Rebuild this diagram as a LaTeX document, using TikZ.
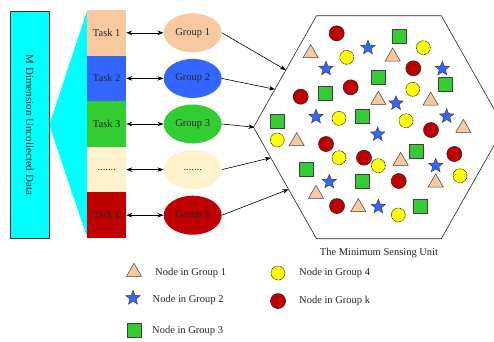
\documentclass[tikz,border=0pt]{standalone}
\usepackage{fontspec}
\setmainfont{Liberation Serif}
\usetikzlibrary{shapes.geometric,calc,arrows.meta}

\definecolor{peach}{RGB}{248,200,160}
\definecolor{tblue}{RGB}{51,102,255}
\definecolor{tgreen}{RGB}{51,204,51}
\definecolor{cream}{RGB}{255,242,204}
\definecolor{tred}{RGB}{192,0,0}
\definecolor{tyellow}{RGB}{255,255,0}
\definecolor{tcyan}{RGB}{0,255,255}

\tikzset{
  lbl/.style={font=\fontsize{10.5}{12}\selectfont, text=black!85},
  taskcell/.style={lbl, rectangle, inner sep=0pt, minimum width=38.7pt, minimum height=45.6pt},
  groupell/.style={lbl, ellipse, inner sep=0pt, minimum width=58pt, minimum height=39pt},
  link/.style={-{Stealth[length=6pt,width=4.5pt]}, line width=0.6pt},
  twoway/.style={{Stealth[length=6pt,width=4.5pt]}-{Stealth[length=6pt,width=4.5pt]}, line width=0.6pt},
  tri/.style={regular polygon, regular polygon sides=3, inner sep=0pt, minimum size=17.5pt,
    fill=peach, draw=black!75, line width=0.5pt},
  starn/.style={star, star points=5, star point ratio=2.3, inner sep=0pt, minimum size=15pt,
    fill=tblue, draw=black!75, line width=0.5pt},
  sq/.style={rectangle, inner sep=0pt, minimum size=14pt, fill=tgreen, draw=black!75, line width=0.6pt},
  rc/.style={circle, inner sep=0pt, minimum size=15pt, fill=tred, draw=black!85, line width=0.6pt},
  yc/.style={circle, inner sep=0pt, minimum size=14pt, fill=tyellow, draw=black,
    line width=0.6pt, dash pattern=on 0.7pt off 0.7pt},
  legtext/.style={lbl, anchor=west, inner sep=0pt}
}

\begin{document}
\begin{tikzpicture}[x=1pt, y=-1pt]
\useasboundingbox (0,0) rectangle (494,341);

% data source and its fan-out to the task column
\fill[tcyan] (49.3,125) -- (87.3,10) -- (87.3,238) -- cycle;
\node[rectangle, fill=tcyan, draw=black!80, line width=0.8pt, inner sep=0pt,
      minimum width=38.6pt, minimum height=226.3pt] (src) at (30,124.85) {};
\node[lbl, font=\fontsize{11}{12}\selectfont, rotate=-90] at (src.center) {M Dimension Uncollected Data};

% task column
\node[taskcell, fill=peach] (t1) at (106.7,32.8) {Task 1};
\node[taskcell, fill=tblue] (t2) at (106.7,78.4) {Task 2};
\node[taskcell, fill=tgreen] (t3) at (106.7,124) {Task 3};
\node[taskcell, fill=cream] (t4) at (106.7,169.6) {.......};
\node[taskcell, fill=tred] (t5) at (106.7,215.2) {Task k};

% groups
\node[groupell, fill=peach] (g1) at (192.7,32.8) {Group 1};
\node[groupell, fill=tblue] (g2) at (192.7,78.4) {Group 2};
\node[groupell, fill=tgreen] (g3) at (192.7,124) {Group 3};
\node[groupell, fill=cream] (g4) at (192.7,169.6) {.......};
\node[groupell, fill=tred] (g5) at (192.7,215.2) {Group k};

\foreach \i in {1,...,5} {
  \draw[twoway] (t\i.east) -- (g\i.west);
}

% sensing unit
\coordinate (hL) at (253.5,127.2);
\coordinate (hTL) at (316.5,15.7);
\coordinate (hTR) at (441.3,15.7);
\coordinate (hR) at (504.3,127.2);
\coordinate (hBR) at (441.3,238.7);
\coordinate (hBL) at (316.5,238.7);
\draw[line width=0.6pt, black!85] (hL) -- (hTL) -- (hTR) -- (hR) -- (hBR) -- (hBL) -- cycle;
\node[lbl, anchor=north] (cap) at (379,245) {The Minimum Sensing Unit};

\coordinate (e1) at ($(hL)!0.513!(hTL)$);
\coordinate (e2) at ($(hL)!0.34!(hTL)$);
\coordinate (e3) at ($(hL)+(1,0)$);
\coordinate (e4) at ($(hL)!0.274!(hBL)$);
\coordinate (e5) at ($(hL)!0.557!(hBL)$);
\foreach \i in {1,...,5} {
  \draw[link] (g\i.east) -- (e\i);
}

% members of each group
\foreach \p in {(336.7,33.3),(413.3,68.3),(350.7,87.3),(300.7,96.7),(431,130),
                (326,144),(364,157.7),(454.3,154),(398.7,181),(337,206)}
  \node[rc] at \p {};
\foreach \p in {(423.3,47.7),(346.7,57.3),(412.7,89.3),(339,118.3),(406,120.7),
                (277.3,140),(339,157.7),(378.3,165.7),(460,175.7),(398.3,215)}
  \node[yc] at \p {};
\foreach \p in {(399,36),(378.3,77.3),(445.7,84),(325.7,93.3),(277.3,121),
                (362.3,116.7),(416,151),(306.7,169.3),(362.3,181),(420,206)}
  \node[sq] at \p {};
\foreach \p in {(310.7,53.3),(392.7,56.7),(378.3,100),(430.7,100.7),(463.3,128),
                (296.7,141.3),(400.7,161),(435.7,182.7),(316,194),(358.3,207.3)}
  \node[tri] at \p {};
\foreach \p in {(368,47.7),(326,68.7),(442.3,68.7),(396,103.3),(316,116.7),
                (446.7,116.3),(377.7,134.3),(435.7,165.7),(329.3,181.7),(378.3,206.7)}
  \node[starn] at \p {};

% legend
\node[tri] (k1) at (134,272) {};
\node[legtext] (k1t) at (155,273) {Node in Group 1};
\node[starn] (k2) at (133,298) {};
\node[legtext] (k2t) at (152.5,300) {Node in Group 2};
\node[sq] (k3) at (134,330) {};
\node[legtext] (k3t) at (152,331) {Node in Group 3};
\node[yc] (k4) at (278,273) {};
\node[legtext] (k4t) at (299,273) {Node in Group 4};
\node[rc] (k5) at (278,301) {};
\node[legtext] (k5t) at (299,301) {Node in Group k};
\end{tikzpicture}
\end{document}
